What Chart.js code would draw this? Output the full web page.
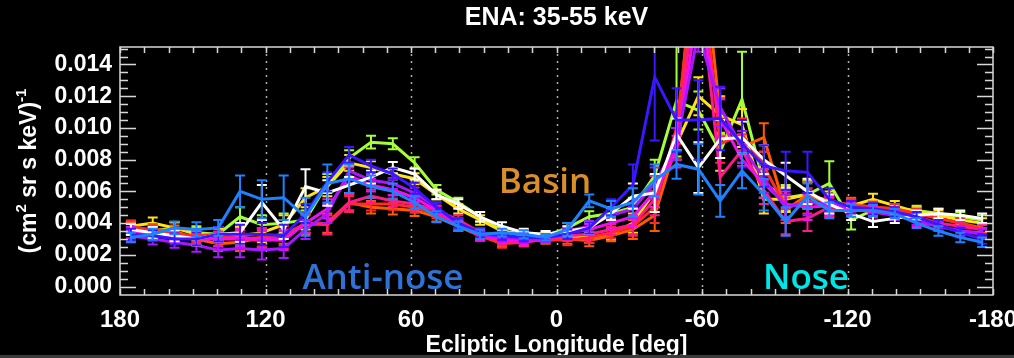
<!DOCTYPE html>
<html>
<head>
<meta charset="utf-8">
<script src="https://cdn.jsdelivr.net/npm/chart.js@4.4.1/dist/chart.umd.min.js"></script>
<style>
html, body { margin: 0; padding: 0; background: #000; overflow: hidden; }
</style>
</head>
<body>
<canvas id="enaChart" width="1014" height="358"></canvas>
<script>
// ecliptic longitude bin centres [deg]
const longitudes = [175.5, 166.5, 157.5, 148.5, 139.5, 130.5, 121.5, 112.5, 103.5, 94.5,
  85.5, 76.5, 67.5, 58.5, 49.5, 40.5, 31.5, 22.5, 13.5, 4.5,
  -4.5, -13.5, -22.5, -31.5, -40.5, -49.5, -58.5, -67.5, -76.5, -85.5,
  -94.5, -103.5, -112.5, -121.5, -130.5, -139.5, -148.5, -157.5, -166.5, -175.5];

const xTicks = [180, 120, 60, 0, -60, -120, -180];
const yTicks = [0, 0.002, 0.004, 0.006, 0.008, 0.010, 0.012, 0.014];

// fluxes (cm^2 sr s keV)^-1, one list per curve
const fluxBlue = [0.0031,0.0033,0.0037,0.0036,0.0037,0.0060,0.0055,0.0056,0.0044,0.0065,
  0.0068,0.0063,0.0060,0.0053,0.0044,0.0038,0.0033,0.0034,0.0033,0.0031,
  0.0036,0.0054,0.0049,0.0053,0.0067,0.0077,0.0074,0.0054,0.0073,0.0058,
  0.0041,0.0057,0.0048,0.0048,0.0048,0.0046,0.0040,0.0035,0.0031,0.0028];
const fluxIndigo = [0.0033,0.0032,0.0030,0.0030,0.0033,0.0033,0.0033,0.0032,0.0046,0.0066,
  0.0083,0.0076,0.0071,0.0062,0.0050,0.0040,0.0034,0.0032,0.0031,0.0031,
  0.0033,0.0037,0.0050,0.0064,0.0132,0.0105,0.0105,0.0106,0.0090,0.0076,
  0.0073,0.0072,0.0055,0.0050,0.0049,0.0047,0.0044,0.0039,0.0034,0.0030];
const fluxWhite = [0.0036,0.0034,0.0032,0.0030,0.0033,0.0034,0.0053,0.0036,0.0063,0.0059,
  0.0064,0.0069,0.0075,0.0071,0.0058,0.0052,0.0044,0.0038,0.0034,0.0033,
  0.0035,0.0037,0.0046,0.0057,0.0059,0.0096,0.0075,0.0093,0.0094,0.0080,
  0.0070,0.0060,0.0052,0.0046,0.0041,0.0043,0.0045,0.0046,0.0045,0.0043];
const fluxViolet = [0.0032,0.0030,0.0028,0.0026,0.0023,0.0024,0.0023,0.0024,0.0036,0.0046,
  0.0073,0.0067,0.0065,0.0059,0.0050,0.0040,0.0033,0.0031,0.0030,0.0030,
  0.0035,0.0038,0.0045,0.0049,0.0065,0.0090,0.0160,0.0113,0.0088,0.0068,
  0.0050,0.0053,0.0052,0.0050,0.0048,0.0045,0.0042,0.0038,0.0035,0.0033];
const fluxMagenta = [0.0034,0.0033,0.0031,0.0030,0.0030,0.0031,0.0030,0.0029,0.0040,0.0049,
  0.0070,0.0064,0.0061,0.0056,0.0048,0.0039,0.0032,0.0030,0.0029,0.0030,
  0.0034,0.0036,0.0040,0.0044,0.0060,0.0085,0.0180,0.0106,0.0080,0.0065,
  0.0052,0.0050,0.0051,0.0049,0.0047,0.0045,0.0041,0.0038,0.0035,0.0034];
const fluxPink = [0.0036,0.0033,0.0032,0.0031,0.0030,0.0030,0.0029,0.0030,0.0040,0.0039,
  0.0053,0.0057,0.0054,0.0052,0.0048,0.0042,0.0034,0.0029,0.0028,0.0030,
  0.0032,0.0033,0.0036,0.0039,0.0055,0.0090,0.0200,0.0069,0.0086,0.0061,
  0.0041,0.0043,0.0050,0.0050,0.0049,0.0047,0.0044,0.0040,0.0038,0.0036];
const fluxRed = [0.0038,0.0035,0.0033,0.0032,0.0033,0.0030,0.0031,0.0032,0.0040,0.0039,
  0.0052,0.0052,0.0052,0.0050,0.0046,0.0040,0.0032,0.0027,0.0028,0.0030,
  0.0029,0.0031,0.0034,0.0038,0.0050,0.0100,0.0220,0.0090,0.0096,0.0076,
  0.0050,0.0054,0.0050,0.0051,0.0050,0.0049,0.0046,0.0043,0.0040,0.0036];
const fluxOrange = [0.0037,0.0036,0.0035,0.0030,0.0027,0.0028,0.0031,0.0033,0.0039,0.0040,
  0.0053,0.0050,0.0049,0.0048,0.0044,0.0038,0.0032,0.0028,0.0029,0.0029,
  0.0030,0.0029,0.0032,0.0036,0.0045,0.0090,0.0240,0.0107,0.0088,0.0094,
  0.0048,0.0058,0.0052,0.0052,0.0050,0.0049,0.0046,0.0043,0.0040,0.0037];
const fluxYellow = [0.0038,0.0040,0.0037,0.0033,0.0032,0.0032,0.0034,0.0039,0.0056,0.0063,
  0.0078,0.0075,0.0071,0.0068,0.0058,0.0049,0.0042,0.0035,0.0032,0.0032,
  0.0032,0.0031,0.0033,0.0040,0.0060,0.0090,0.0120,0.0108,0.0102,0.0055,
  0.0055,0.0058,0.0054,0.0051,0.0055,0.0051,0.0047,0.0045,0.0042,0.0040];
const fluxLime = [0.0037,0.0035,0.0037,0.0034,0.0033,0.0044,0.0039,0.0040,0.0042,0.0065,
  0.0081,0.0091,0.0090,0.0078,0.0061,0.0053,0.0044,0.0035,0.0033,0.0032,
  0.0037,0.0044,0.0046,0.0050,0.0070,0.0117,0.0111,0.0085,0.0118,0.0065,
  0.0056,0.0058,0.0065,0.0042,0.0048,0.0049,0.0048,0.0046,0.0044,0.0042];

// 1-sigma error bars
const errCommon = [0.00035,0.00035,0.00035,0.0004,0.00045,0.00055,0.0006,0.0006,0.0006,0.0006,
  0.0005,0.0004,0.00035,0.00035,0.0003,0.0003,0.0003,0.00025,0.00025,0.0002,
  0.0003,0.00035,0.00035,0.0006,0.001,0.001,0.0012,0.0012,0.001,0.0009,
  0.0008,0.0008,0.0006,0.0004,0.00035,0.0003,0.0003,0.0003,0.0003,0.0003];
const errBlue = [0.0003,0.00035,0.0004,0.00045,0.0005,0.001,0.0012,0.0014,0.0012,0.0012,
  0.0009,0.0007,0.0005,0.0004,0.00035,0.0003,0.0003,0.00025,0.00025,0.0002,
  0.0004,0.0004,0.0005,0.0009,0.001,0.0009,0.0016,0.001,0.0011,0.001,
  0.0009,0.0008,0.0005,0.0004,0.00035,0.0003,0.0003,0.0003,0.0003,0.0003];
const errIndigo = [0.00035,0.00035,0.00035,0.0004,0.00045,0.0006,0.0007,0.0007,0.0006,0.0006,
  0.0005,0.0004,0.00035,0.00035,0.0003,0.0003,0.0003,0.00025,0.00025,0.0002,
  0.0003,0.00035,0.0005,0.0013,0.004,0.002,0.0025,0.002,0.0015,0.0013,
  0.0012,0.0013,0.0007,0.0004,0.00035,0.0003,0.0003,0.0003,0.0003,0.0003];
const errWhite = [0.00035,0.00035,0.00035,0.0004,0.00045,0.0006,0.0011,0.0006,0.0011,0.0008,
  0.0005,0.0004,0.00035,0.00035,0.0003,0.0003,0.0003,0.00025,0.00025,0.0002,
  0.0003,0.00035,0.0004,0.0008,0.0012,0.001,0.0016,0.0012,0.001,0.0009,
  0.0008,0.0008,0.0006,0.0004,0.00035,0.0003,0.0003,0.0003,0.0003,0.0003];
const errLime = [0.00035,0.00035,0.00035,0.0004,0.00045,0.0006,0.0006,0.0006,0.0006,0.0006,
  0.0005,0.0004,0.00035,0.00035,0.0003,0.0003,0.0003,0.00025,0.00025,0.0002,
  0.0003,0.00035,0.00035,0.0006,0.001,0.0035,0.0012,0.0012,0.003,0.0009,
  0.0008,0.0009,0.0014,0.0006,0.00035,0.0003,0.0003,0.0003,0.0003,0.0003];

const series = [
  { flux: fluxBlue, err: errBlue, color: '#1e82ff' },
  { flux: fluxIndigo, err: errIndigo, color: '#3a17ff' },
  { flux: fluxWhite, err: errWhite, color: '#ffffff' },
  { flux: fluxViolet, err: errCommon, color: '#a818ff' },
  { flux: fluxMagenta, err: errCommon, color: '#f010f0' },
  { flux: fluxPink, err: errCommon, color: '#ff1a8a' },
  { flux: fluxRed, err: errCommon, color: '#ff2a2a' },
  { flux: fluxOrange, err: errCommon, color: '#ff5a00' },
  { flux: fluxYellow, err: errCommon, color: '#ffe21a' },
  { flux: fluxLime, err: errLime, color: '#a4ff3a' }
];

const errorBars = {
  id: 'errorBars',
  afterDatasetDraw(chart, args) {
    const ds = chart.data.datasets[args.index];
    const errs = ds.errors;
    if (!errs) return;
    const xs = chart.scales.x, ys = chart.scales.y, ctx = chart.ctx, a = chart.chartArea;
    ctx.save();
    ctx.beginPath();
    ctx.rect(a.left, a.top, a.right - a.left, a.bottom - a.top);
    ctx.clip();
    ctx.strokeStyle = ds.borderColor;
    ctx.lineWidth = 2;
    ds.data.forEach((p, i) => {
      const x = xs.getPixelForValue(p.x);
      const y1 = ys.getPixelForValue(p.y + errs[i]);
      const y2 = ys.getPixelForValue(p.y - errs[i]);
      ctx.beginPath();
      ctx.moveTo(x, y1); ctx.lineTo(x, y2);
      ctx.moveTo(x - 5, y1); ctx.lineTo(x + 5, y1);
      ctx.moveTo(x - 5, y2); ctx.lineTo(x + 5, y2);
      ctx.stroke();
    });
    ctx.restore();
  }
};

const idlFrame = {
  id: 'idlFrame',
  beforeDatasetsDraw(chart) {
    const ctx = chart.ctx, a = chart.chartArea, xs = chart.scales.x;
    ctx.save();
    ctx.strokeStyle = '#b0b0b0';
    ctx.lineWidth = 1.5;
    ctx.setLineDash([2, 5]);
    xTicks.slice(1, -1).forEach(v => {
      const x = Math.round(xs.getPixelForValue(v)) + 0.5;
      ctx.beginPath();
      ctx.moveTo(x, a.top);
      ctx.lineTo(x, a.bottom);
      ctx.stroke();
    });
    ctx.restore();
  },
  afterDraw(chart) {
    const ctx = chart.ctx, a = chart.chartArea, xs = chart.scales.x, ys = chart.scales.y;
    ctx.save();
    ctx.strokeStyle = '#d8d8d8';
    ctx.lineWidth = 1.5;
    ctx.strokeRect(a.left, a.top, a.right - a.left, a.bottom - a.top);
    // inward ticks
    ctx.beginPath();
    for (let v = 0; v <= 0.0150001; v += 0.0005) {
      const y = Math.round(ys.getPixelForValue(v)) + 0.5;
      const major = Math.abs(v / 0.002 - Math.round(v / 0.002)) < 1e-6;
      const len = major ? 16 : 8;
      ctx.moveTo(a.left, y); ctx.lineTo(a.left + len, y);
      ctx.moveTo(a.right, y); ctx.lineTo(a.right - len, y);
    }
    for (let v = -180; v <= 180; v += 10) {
      const x = Math.round(xs.getPixelForValue(v)) + 0.5;
      ctx.moveTo(x, a.bottom); ctx.lineTo(x, a.bottom - 6);
      ctx.moveTo(x, a.top); ctx.lineTo(x, a.top + 6);
    }
    ctx.stroke();

    // title
    ctx.fillStyle = '#ffffff';
    ctx.textAlign = 'center';
    ctx.textBaseline = 'alphabetic';
    ctx.font = 'bold 25px "Liberation Sans", Arial, sans-serif';
    ctx.fillText('ENA: 35-55 keV', (a.left + a.right) / 2, 25);
    // x axis title
    ctx.font = 'bold 23px "Liberation Sans", Arial, sans-serif';
    ctx.fillText('Ecliptic Longitude [deg]', (a.left + a.right) / 2, 352);

    // y axis title with superscripts
    const parts = [
      { t: '(cm', sup: false }, { t: '2', sup: true },
      { t: ' sr s keV)', sup: false }, { t: '-1', sup: true }
    ];
    const big = 'bold 23px "Liberation Sans", Arial, sans-serif';
    const small = 'bold 15px "Liberation Sans", Arial, sans-serif';
    let total = 0;
    parts.forEach(p => { ctx.font = p.sup ? small : big; p.w = ctx.measureText(p.t).width; total += p.w; });
    ctx.translate(36, 171);
    ctx.rotate(-Math.PI / 2);
    ctx.textAlign = 'left';
    let cx = -total / 2;
    parts.forEach(p => {
      ctx.font = p.sup ? small : big;
      ctx.fillText(p.t, cx, p.sup ? -10 : 0);
      cx += p.w;
    });
    ctx.setTransform(1, 0, 0, 1, 0, 0);

    // region labels
    ctx.textAlign = 'center';
    ctx.font = '600 35px "Open Sans", sans-serif';
    ctx.fillStyle = '#d98e2b';
    ctx.fillText('Basin', 545, 193);
    ctx.fillStyle = '#2f72d6';
    ctx.fillText('Anti-nose', 383, 289);
    ctx.fillStyle = '#00e6e6';
    ctx.fillText('Nose', 806, 289);

    // bottom strip
    ctx.fillStyle = '#3a3a3a';
    ctx.fillRect(0, 355, 1014, 3);
    ctx.restore();
  }
};

const datasets = series.map(s => ({
  data: longitudes.map((lon, i) => ({ x: lon, y: s.flux[i] })),
  errors: s.err,
  borderColor: s.color,
  backgroundColor: s.color,
  borderWidth: 3,
  pointRadius: 0,
  tension: 0,
  fill: false
}));

const ctx = document.getElementById('enaChart').getContext('2d');
const enaChart = new Chart(ctx, {
  type: 'line',
  data: { datasets: datasets },
  plugins: [errorBars, idlFrame],
  options: {
    responsive: false,
    animation: false,
    devicePixelRatio: 1,
    layout: { padding: { top: 47, right: 21, left: 0, bottom: 0 } },
    plugins: { legend: { display: false }, tooltip: { enabled: false } },
    scales: {
      x: {
        type: 'linear',
        reverse: true,
        min: -180,
        max: 180,
        afterBuildTicks: s => { s.ticks = xTicks.map(v => ({ value: v })); },
        afterFit: s => { s.height = 63; s.paddingLeft = 0; s.paddingRight = 0; },
        grid: { display: false, drawTicks: false },
        border: { display: false },
        ticks: {
          color: '#ffffff',
          padding: 11,
          maxRotation: 0,
          autoSkip: false,
          font: { family: '"Liberation Sans", Arial, sans-serif', size: 24, weight: 'bold' },
          callback: v => String(v)
        }
      },
      y: {
        type: 'linear',
        min: -0.00053,
        max: 0.0151,
        afterBuildTicks: s => { s.ticks = yTicks.map(v => ({ value: v })); },
        afterFit: s => { s.width = 120; s.paddingTop = 0; s.paddingBottom = 0; },
        grid: { display: false, drawTicks: false },
        border: { display: false },
        ticks: {
          color: '#ffffff',
          padding: 8,
          autoSkip: false,
          font: { family: '"Liberation Sans", Arial, sans-serif', size: 23, weight: 'bold' },
          callback: v => v.toFixed(3)
        }
      }
    }
  }
});
</script>
</body>
</html>
